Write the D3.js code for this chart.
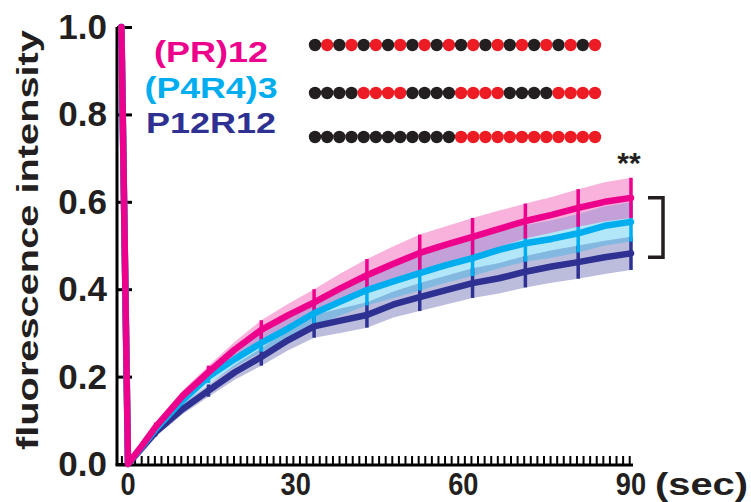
<!DOCTYPE html>
<html>
<head>
<meta charset="utf-8">
<script src="https://cdn.jsdelivr.net/npm/d3@7"></script>
<style>
  body { margin: 0; background: #fff; }
  text { font-family: Arial, "Liberation Sans", sans-serif; font-weight: bold; }
</style>
</head>
<body>
<svg width="751" height="502"></svg>
<script>
// time points (sec), -1.18 = pre-bleach frame
const TIMES = [-1.18, 0, 2.4, 4.95, 9.7, 14.4, 19.1, 23.85, 28.6, 33.3, 38.0, 42.75, 47.5, 52.2, 56.9, 61.65, 66.4, 71.1, 75.8, 80.55, 85.3, 90];
const PR12   = [1, 0, 0.04, 0.085, 0.155, 0.21, 0.262, 0.307, 0.34, 0.37, 0.402, 0.432, 0.458, 0.483, 0.502, 0.52, 0.538, 0.556, 0.57, 0.586, 0.6, 0.609];
const P4R4_3 = [1, 0, 0.038, 0.08, 0.145, 0.2, 0.24, 0.277, 0.31, 0.345, 0.372, 0.398, 0.418, 0.437, 0.455, 0.471, 0.49, 0.505, 0.515, 0.528, 0.545, 0.554];
const P12R12 = [1, 0, 0.035, 0.073, 0.125, 0.168, 0.21, 0.245, 0.283, 0.315, 0.328, 0.341, 0.365, 0.382, 0.398, 0.414, 0.425, 0.44, 0.452, 0.462, 0.473, 0.482];
const PR12_SD   = [0, 0, 0.005, 0.01, 0.012, 0.015, 0.018, 0.022, 0.026, 0.03, 0.034, 0.037, 0.04, 0.042, 0.042, 0.043, 0.042, 0.04, 0.041, 0.043, 0.045, 0.046];
const P4R4_3_SD = [0, 0, 0.005, 0.01, 0.012, 0.015, 0.018, 0.02, 0.024, 0.028, 0.032, 0.035, 0.038, 0.04, 0.04, 0.041, 0.042, 0.042, 0.043, 0.044, 0.045, 0.045];
const P12R12_SD = [0, 0, 0.005, 0.01, 0.012, 0.014, 0.017, 0.02, 0.023, 0.026, 0.028, 0.029, 0.03, 0.032, 0.033, 0.034, 0.035, 0.036, 0.037, 0.038, 0.038, 0.038];
const ERR_TIMES = [4.95, 14.4, 23.85, 33.3, 42.75, 52.2, 61.65, 71.1, 80.55, 90];

const Y_TICKS = [0, 0.2, 0.4, 0.6, 0.8, 1.0];
const X_TICKS = [0, 30, 60, 90];
const FRAME = 1.18;

const SERIES = [
  { name: 'P12R12', values: P12R12, sd: P12R12_SD, color: '#2e3192', fill: 'rgba(46,49,146,0.32)' },
  { name: '(P4R4)3', values: P4R4_3, sd: P4R4_3_SD, color: '#00aeef', fill: 'rgba(0,174,239,0.3)' },
  { name: '(PR)12', values: PR12, sd: PR12_SD, color: '#ec008c', fill: 'rgba(236,0,140,0.3)' },
];
const SEQUENCES = ['PRPRPRPRPRPRPRPRPRPRPRPR', 'PPPPRRRRPPPPRRRRPPPPRRRR', 'PPPPPPPPPPPPRRRRRRRRRRRR'];

const svg = d3.select('svg');
const x = d3.scaleLinear().domain([0, 90]).range([128, 631]);
const y = d3.scaleLinear().domain([0, 1]).range([464, 27]);

// bands
SERIES.forEach(s => {
  const pts = TIMES.map((t, i) => ({ t, v: s.values[i], sd: s.sd[i] })).filter(d => d.t >= 0);
  svg.append('path')
    .datum(pts)
    .attr('fill', s.fill)
    .attr('d', d3.area().x(d => x(d.t)).y0(d => y(d.v - d.sd)).y1(d => y(d.v + d.sd)));
});

// error bars
SERIES.forEach(s => {
  const pts = TIMES.map((t, i) => ({ t, v: s.values[i], sd: s.sd[i] })).filter(d => ERR_TIMES.includes(d.t));
  svg.selectAll(null).data(pts).enter().append('line')
    .attr('x1', d => x(d.t)).attr('x2', d => x(d.t))
    .attr('y1', d => y(d.v - d.sd)).attr('y2', d => y(d.v + d.sd))
    .attr('stroke', s.color).attr('stroke-width', 3.5);
});

// axes
const yAxis = svg.append('g').attr('transform', 'translate(117,0)')
  .call(d3.axisRight(y).tickValues(Y_TICKS).tickSize(15).tickFormat(''));
yAxis.select('.domain').attr('d', `M0,${y(1)}V${y(0) + 1}`).attr('stroke-width', 3);
yAxis.selectAll('.tick line').attr('stroke-width', 3);

const minor = d3.range(-1, 77).map(i => i * FRAME);
const xAxis = svg.append('g').attr('transform', `translate(0,${y(0) + 1})`)
  .call(d3.axisTop(x).tickValues(minor).tickSize(9).tickFormat(''));
xAxis.select('.domain').attr('d', `M115.5,0H${x(90) + 2}`).attr('stroke-width', 3);
xAxis.selectAll('.tick line').attr('stroke-width', 2);

svg.append('g').selectAll('text').data(Y_TICKS).enter().append('text')
  .attr('x', 107).attr('y', d => y(d) + 12)
  .attr('text-anchor', 'end').attr('font-size', 35).attr('fill', '#231f20')
  .text(d => d.toFixed(1));

svg.append('g').selectAll('text').data(X_TICKS).enter().append('text')
  .attr('transform', d => `translate(${x(d)},495) scale(0.85,1)`)
  .attr('text-anchor', 'middle').attr('font-size', 32).attr('fill', '#231f20')
  .text(d => d);

svg.append('text').attr('x', 655).attr('y', 495).attr('font-size', 32).attr('fill', '#231f20')
  .attr('textLength', 93).attr('lengthAdjust', 'spacingAndGlyphs').text('(sec)');

svg.append('text').attr('transform', 'translate(38,240) rotate(-90)')
  .attr('text-anchor', 'middle').attr('font-size', 30).attr('fill', '#231f20')
  .attr('textLength', 420).attr('lengthAdjust', 'spacingAndGlyphs')
  .text('fluorescence intensity');

// lines
SERIES.forEach(s => {
  svg.append('path')
    .datum(TIMES.map((t, i) => [t, s.values[i]]))
    .attr('fill', 'none').attr('stroke', s.color).attr('stroke-width', 6.5)
    .attr('stroke-linejoin', 'round').attr('stroke-linecap', 'round')
    .attr('d', d3.line().x(d => x(d[0])).y(d => y(d[1])));
});

// legend
const legend = [
  { label: '(PR)12', color: '#ec008c', yb: 62, w: 114 },
  { label: '(P4R4)3', color: '#00aeef', yb: 98, w: 133 },
  { label: 'P12R12', color: '#2e3192', yb: 133, w: 130 },
];
svg.append('g').selectAll('text').data(legend).enter().append('text')
  .attr('x', 211).attr('y', d => d.yb).attr('text-anchor', 'middle')
  .attr('font-size', 30).attr('fill', d => d.color)
  .attr('textLength', d => d.w).attr('lengthAdjust', 'spacingAndGlyphs')
  .text(d => d.label);

// residue sequences
const dx = d3.scaleLinear().domain([0, 23]).range([315, 595]);
const rowY = [45, 93, 137];
SEQUENCES.forEach((seq, r) => {
  svg.append('g').selectAll('circle').data(seq.split('')).enter().append('circle')
    .attr('cx', (d, i) => dx(i)).attr('cy', rowY[r]).attr('r', 6.2)
    .attr('fill', d => d === 'P' ? '#231f20' : '#ed1c24');
});

// significance
svg.append('text').attr('x', 629).attr('y', 173).attr('text-anchor', 'middle')
  .attr('font-size', 30).attr('fill', '#231f20').text('**');
const bTop = y(PR12[PR12.length - 1]), bBot = y(P12R12[P12R12.length - 1]) + 4;
svg.append('path').attr('fill', 'none').attr('stroke', '#231f20').attr('stroke-width', 3.5)
  .attr('d', `M648,${bTop}H663V${bBot}H648`);
</script>
</body>
</html>
